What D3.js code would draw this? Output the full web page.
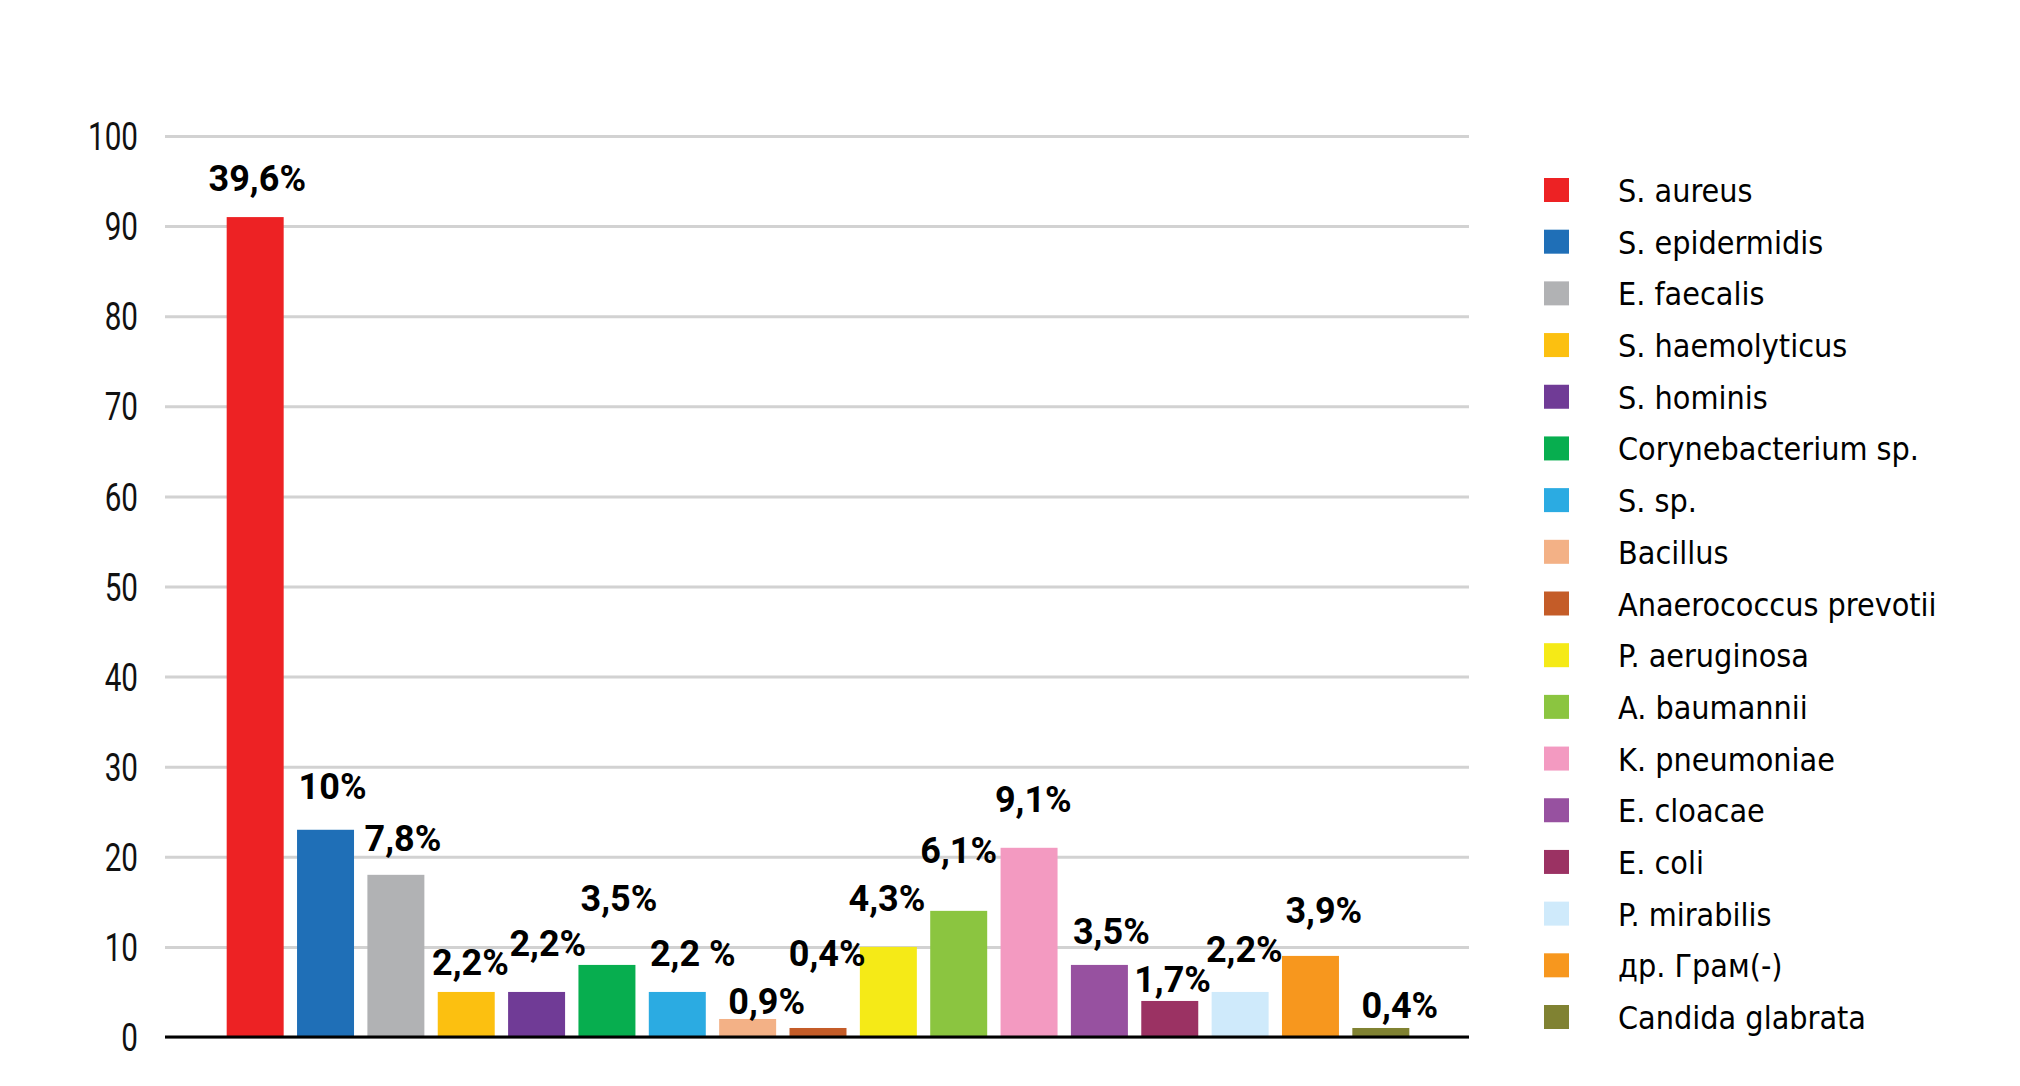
<!DOCTYPE html>
<html><head><meta charset="utf-8">
<script src="https://cdn.jsdelivr.net/npm/d3@7"></script>
<style>
html,body{margin:0;padding:0;background:#fff;}
svg{display:block;}
</style></head>
<body>
<svg id="chart" width="2020" height="1086"></svg>
<script>
// ---- data ----
const categories = ["S. aureus","S. epidermidis","E. faecalis","S. haemolyticus","S. hominis","Corynebacterium sp.","S. sp.","Bacillus","Anaerococcus prevotii","P. aeruginosa","A. baumannii","K. pneumoniae","E. cloacae","E. coli","P. mirabilis","др. Грам(-)","Candida glabrata"];
const values = [91, 23, 18, 5, 5, 8, 5, 2, 1, 10, 14, 21, 8, 4, 5, 9, 1];
const valueLabels = ["39,6%","10%","7,8%","2,2%","2,2%","3,5%","2,2 %","0,9%","0,4%","4,3%","6,1%","9,1%","3,5%","1,7%","2,2%","3,9%","0,4%"];
const colors = ["#ED2224","#1F6FB7","#B1B2B4","#FCC010","#703B96","#07AE4F","#2BABE2","#F3B186","#C45C28","#F5EA17","#8BC540","#F39AC1","#9751A0","#9B3263","#CFEAFB","#F7971E","#808232"];
const yTicks = [0,10,20,30,40,50,60,70,80,90,100];
// label annotation anchors (value units) and horizontal nudge (fraction of band step)
const labelLevel = [93.9, 26.4, 20.6, 6.9, 9.0, 14.0, 7.9, 2.6, 7.9, 14.0, 19.3, 25.0, 10.3, 5.0, 8.3, 12.6, 2.1];
const labelNudge = [0.03, 0.10, 0.10, 0.06, 0.16, 0.17, 0.22, 0.27, 0.13, -0.02, 0.0, 0.06, 0.17, 0.04, 0.06, 0.19, 0.27];

// ---- layout ----
const svg = d3.select("#chart");
const plotLeft = 165, plotRight = 1469, plotTop = 136, plotBottom = 1037;

const y = d3.scaleLinear().domain([0,100]).range([plotBottom, plotTop]);
const x = d3.scaleBand().domain(categories).range([220, 1416]).paddingInner(0.19).paddingOuter(0.095);

const numFont = "Roboto,'DejaVu Sans Condensed',sans-serif";
const legendFont = "'DejaVu Sans Condensed','DejaVu Sans',sans-serif";
const tickSquash = 0.78;

// y axis + grid
const yAxis = d3.axisLeft(y).tickValues(yTicks).tickSize(-(plotRight-plotLeft)).tickPadding(27).tickFormat(d3.format("d"));
const gAxis = svg.append("g").attr("transform", `translate(${plotLeft},0)`).call(yAxis);
gAxis.select(".domain").remove();
gAxis.selectAll(".tick line").attr("stroke", "#d2d2d2").attr("stroke-width", 3);
gAxis.selectAll(".tick text")
  .attr("font-family", numFont).attr("font-size", 38).attr("fill", "#111")
  .attr("x", -27 / tickSquash)
  .attr("transform", `scale(${tickSquash},1)`)
  .attr("dy", "0.36em");

// bars
svg.append("g").selectAll("rect").data(categories).join("rect")
  .attr("x", d => x(d))
  .attr("y", (d,i) => y(values[i]))
  .attr("width", x.bandwidth())
  .attr("height", (d,i) => y(0) - y(values[i]))
  .attr("fill", (d,i) => colors[i]);

// baseline
svg.append("line")
  .attr("x1", plotLeft).attr("x2", plotRight)
  .attr("y1", y(0)).attr("y2", y(0))
  .attr("stroke", "#000").attr("stroke-width", 3);

// value labels
svg.append("g").selectAll("text").data(categories).join("text")
  .attr("x", (d,i) => x(d) + x.bandwidth()/2 + labelNudge[i]*x.step())
  .attr("y", (d,i) => y(labelLevel[i]))
  .attr("text-anchor", "middle")
  .attr("font-family", numFont).attr("font-weight", "bold").attr("font-size", 36)
  .attr("fill", "#000")
  .text((d,i) => valueLabels[i]);

// legend
const legY = d3.scalePoint().domain(categories).range([190, 1017]);
const leg = svg.append("g");
const rows = leg.selectAll("g").data(categories).join("g")
  .attr("transform", d => `translate(1544,${legY(d)})`);
rows.append("rect").attr("x", 0).attr("y", -12).attr("width", 25).attr("height", 24)
  .attr("fill", (d,i) => colors[i]);
rows.append("text").attr("x", 74).attr("y", 12)
  .attr("font-family", legendFont).attr("font-size", 32).attr("fill", "#000")
  .text(d => d);
</script>
</body></html>
